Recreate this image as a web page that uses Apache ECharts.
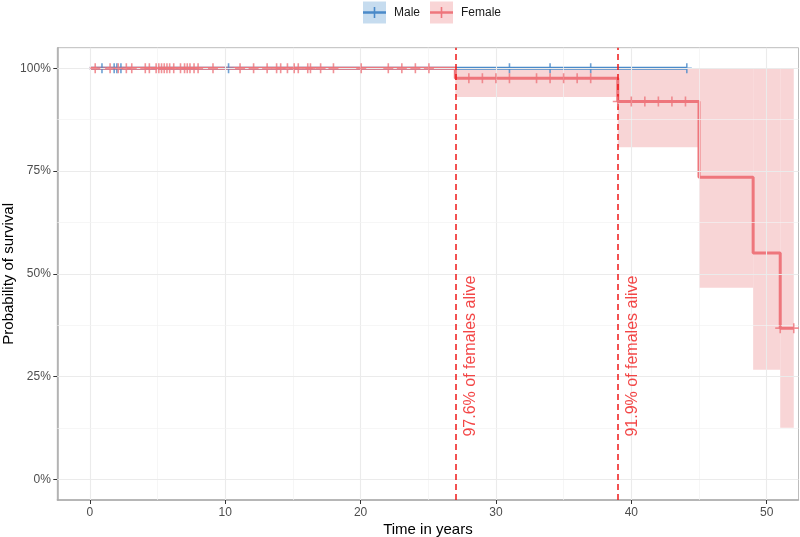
<!DOCTYPE html>
<html><head><meta charset="utf-8">
<script src="https://cdn.jsdelivr.net/npm/echarts@6/dist/echarts.min.js"></script>
<style>html,body{margin:0;padding:0;background:#fff}#c{width:800px;height:537px}</style>
</head><body><div id="c"></div>
<script>
// ---- data ----
const xTicks = [0, 10, 20, 30, 40, 50];
const xMinor = [5, 15, 25, 35, 45];
const yTicks = [0, 25, 50, 75, 100];
const yMinor = [12.5, 37.5, 62.5, 87.5];
const groups = ['Male', 'Female'];
const maleCurve = [[0, 100], [44.1, 100]];
const femaleCurve = [[0, 100], [27, 97.6], [39, 91.9], [45, 73.5], [49, 55.1], [51, 36.8], [52, 36.8]];
const femaleBandStart = [27, 39, 45, 49, 51];
const femaleBandEnd   = [39, 45, 49, 51, 52];
const femaleBandLower = [93.0, 80.8, 46.6, 26.7, 12.6];
const femaleBandUpper = [100, 100, 100, 100, 100];
const maleCensorTimes = [0.9, 1.8, 2.0, 2.3, 10.25, 31, 34, 37, 44.1];
const femaleCensorTimes = [0.4, 1.5, 2.1, 2.7, 3.1, 4.1, 4.4, 4.9, 5.1, 5.3, 5.5, 5.7, 5.9, 6.2, 6.7, 7.0, 7.2, 7.4, 7.7, 8.0, 9.1,
  11.1, 12.1, 13.1, 13.8, 14.1, 14.6, 15.1, 15.4, 16.1, 16.3, 17.05, 18.0, 20.05, 22.05, 23.05, 24.05, 25.05,
  28, 29, 30, 31, 33, 34, 35, 36, 37, 39, 40, 41, 42, 43, 44, 51, 52];
const vlineTimes = [27, 39];
const vlineLabels = ['97.6% of females alive', '91.9% of females alive'];
const vlineLabelX = [28.1, 40.1];
const vlineLabelY = [30, 30];

// ---- helpers ----
function survAt(curve, t) {
  let s = curve[0][1];
  for (const p of curve) { if (p[0] <= t) s = p[1]; }
  return s;
}
const maleColor = '#4A8AC9';
const femaleColor = '#EE767C';
const plus = 'path://M0,4.2L10,4.2L10,5.8L0,5.8Z M4.2,0L5.8,0L5.8,10L4.2,10Z';
const FONT = '"Liberation Sans", Arial, Helvetica, sans-serif';

const gridLines = [];
xTicks.forEach(v => gridLines.push({xAxis: v, lineStyle: {color: '#EBEBEB', width: 1.1, type: 'solid'}}));
xMinor.forEach(v => gridLines.push({xAxis: v, lineStyle: {color: '#F2F2F2', width: 0.7, type: 'solid'}}));
yTicks.forEach(v => gridLines.push({yAxis: v, lineStyle: {color: '#EBEBEB', width: 1.1, type: 'solid'}}));
yMinor.forEach(v => gridLines.push({yAxis: v, lineStyle: {color: '#F2F2F2', width: 0.7, type: 'solid'}}));

const chart = echarts.init(document.getElementById('c'), null, {renderer: 'canvas'});
chart.setOption({
  animation: false,
  textStyle: {fontFamily: FONT},
  grid: {left: 57.3, right: 1.5, top: 47.7, bottom: 37, show: true, borderColor: '#BDBDBD', borderWidth: 1,
    containLabel: false, outerBoundsMode: 'none'},
  xAxis: {
    type: 'value', min: -2.4, max: 52.35,
    splitLine: {show: false},
    axisLine: {show: true, onZero: false, lineStyle: {color: '#ABABAB', width: 1.5}},
    axisTick: {show: true, customValues: xTicks, length: 4, lineStyle: {color: '#333', width: 1}},
    axisLabel: {customValues: xTicks, color: '#4D4D4D', fontSize: 12, margin: 7, fontFamily: FONT},
    name: 'Time in years', nameLocation: 'middle', nameGap: 22, nameMoveOverlap: false,
    nameTextStyle: {fontSize: 15, color: '#000', fontFamily: FONT}
  },
  yAxis: {
    type: 'value', min: -5, max: 105,
    splitLine: {show: false},
    axisLine: {show: true, onZero: false, lineStyle: {color: '#ABABAB', width: 1.5}},
    axisTick: {show: true, customValues: yTicks, length: 4, lineStyle: {color: '#333', width: 1}},
    axisLabel: {customValues: yTicks, color: '#4D4D4D', fontSize: 12, margin: 6.5, fontFamily: FONT, formatter: v => v + '%'},
    name: 'Probability of survival', nameLocation: 'middle', nameGap: 41, nameMoveOverlap: false,
    nameTextStyle: {fontSize: 15, color: '#000', fontFamily: FONT}
  },
  series: [
    {type: 'line', name: 'grid', data: [], z: 0, silent: true,
      markLine: {silent: true, symbol: 'none', label: {show: false}, animation: false, data: gridLines}},
    {type: 'custom', name: 'Female CI', z: 1, silent: true,
      data: femaleBandStart.map((s, i) => [s, femaleBandEnd[i], femaleBandLower[i], femaleBandUpper[i]]),
      encode: {x: [0, 1], y: [2, 3]},
      renderItem: (params, api) => {
        const p0 = api.coord([api.value(0), api.value(3)]);
        const p1 = api.coord([api.value(1), api.value(2)]);
        return {type: 'rect', shape: {x: p0[0], y: p0[1], width: p1[0] - p0[0], height: p1[1] - p0[1]},
          style: {fill: '#F8D5D6'}};
      }},
    {type: 'line', name: groups[0], data: maleCurve, step: 'end', symbol: 'none', z: 2,
      lineStyle: {color: maleColor, width: 3}},
    {type: 'line', name: groups[1], data: femaleCurve, step: 'end', symbol: 'none', z: 3,
      lineStyle: {color: femaleColor, width: 3}},
    {type: 'scatter', name: 'Male censor', z: 4, silent: true,
      data: maleCensorTimes.map(t => [t, survAt(maleCurve, t)]),
      symbol: plus, symbolSize: 10, itemStyle: {color: maleColor}},
    {type: 'scatter', name: 'Female censor', z: 5, silent: true,
      data: femaleCensorTimes.map(t => [t, survAt(femaleCurve, t)]),
      symbol: plus, symbolSize: 10, itemStyle: {color: femaleColor}},
    {type: 'line', name: 'vlines', data: [], z: 6, silent: true,
      markLine: {silent: true, symbol: 'none', label: {show: false},
        lineStyle: {color: '#F01818', width: 1.5, type: [6, 4]},
        data: vlineTimes.map(v => ({xAxis: v}))}},
    {type: 'scatter', name: 'vlabels', z: 7, silent: true,
      data: vlineLabelX.map((x, i) => [x, vlineLabelY[i]]),
      symbolSize: 0,
      label: {show: true, position: 'inside', rotate: 90, align: 'center', verticalAlign: 'middle',
        formatter: p => vlineLabels[p.dataIndex], fontSize: 16, color: '#F01818', fontFamily: FONT}}
  ],
  graphic: [
    {type: 'rect', shape: {x: 363, y: 1.5, width: 23, height: 22}, style: {fill: '#C6DCEF'}},
    {type: 'line', shape: {x1: 363, y1: 12.5, x2: 386, y2: 12.5}, style: {stroke: maleColor, lineWidth: 2.5}},
    {type: 'line', shape: {x1: 374.5, y1: 7, x2: 374.5, y2: 18}, style: {stroke: maleColor, lineWidth: 1.6}},
    {type: 'text', x: 394, y: 12.5, style: {text: groups[0], fontSize: 12, fill: '#1A1A1A', verticalAlign: 'middle', font: '12px ' + FONT}},
    {type: 'rect', shape: {x: 430, y: 1.5, width: 23, height: 22}, style: {fill: '#F9D5D6'}},
    {type: 'line', shape: {x1: 430, y1: 12.5, x2: 453, y2: 12.5}, style: {stroke: femaleColor, lineWidth: 2.5}},
    {type: 'line', shape: {x1: 441.5, y1: 7, x2: 441.5, y2: 18}, style: {stroke: femaleColor, lineWidth: 1.6}},
    {type: 'text', x: 461, y: 12.5, style: {text: groups[1], fontSize: 12, fill: '#1A1A1A', verticalAlign: 'middle', font: '12px ' + FONT}}
  ]
});
</script></body></html>
